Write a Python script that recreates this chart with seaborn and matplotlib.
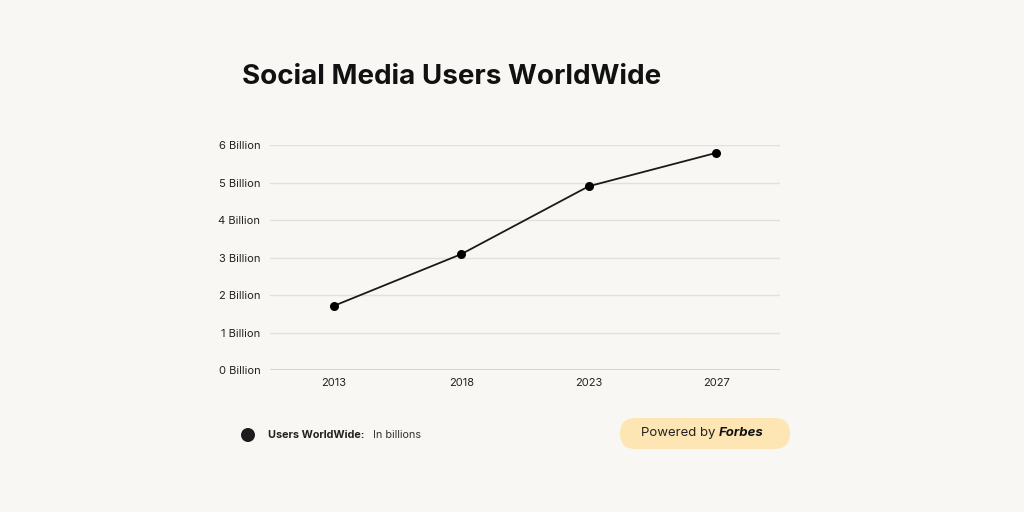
import matplotlib
matplotlib.use("Agg")
import matplotlib.pyplot as plt
from matplotlib.patches import FancyBboxPatch, Circle
import pandas as pd
import seaborn as sns

years = ["2013", "2018", "2023", "2027"]
users = [1.71, 3.09, 4.9, 5.79]
y_ticks = [0, 1, 2, 3, 4, 5, 6]
y_labels = [f"{v} Billion" for v in y_ticks]

BG = "#f9f7f3"

sns.set_theme(style="white")
plt.rcParams["font.family"] = ["Inter", "DejaVu Sans"]

df = pd.DataFrame({"year": years, "users": users})

fig = plt.figure(figsize=(10.24, 5.12), dpi=100, facecolor=BG)
ax = fig.add_axes([0.2637, 0.2773, 0.498, 0.4395], facecolor=BG)

for v in y_ticks[1:]:
    ax.axhline(v, color="#e3e0da", lw=1, zorder=0)
ax.axhline(0, color="#cfccc6", lw=1.2, zorder=0)

sns.lineplot(data=df, x="year", y="users", ax=ax, color="#1a1a1a", lw=1.3,
             marker="o", markersize=6.5, markeredgewidth=0, markerfacecolor="#000000")

ax.set_xlim(-0.5, 3.5)
ax.set_ylim(0, 6)
ax.set_yticks(y_ticks)
ax.set_yticklabels(y_labels)
ax.tick_params(axis="both", labelsize=8, colors="#222222", length=0)
ax.tick_params(axis="y", pad=7)
ax.tick_params(axis="x", pad=6)
ax.set_xlabel("")
ax.set_ylabel("")
for s in ax.spines.values():
    s.set_visible(False)

H = 5.12  # figure height in inches, for placing things in pixel terms
px = fig.dpi_scale_trans

fig.text(242 / 1024, 1 - 77 / 512, "Social Media Users WorldWide", fontsize=20,
         fontweight="bold", color="#111111", va="center", ha="left")

# legend
fig.patches.append(Circle((2.48, H - 4.35), 0.07, transform=px,
                          facecolor="#1c1c1c", edgecolor="none"))
fig.text(268 / 1024, 1 - 435 / 512, "Users WorldWide:", fontsize=7.8, fontweight="bold",
         color="#222222", va="center", ha="left")
fig.text(373 / 1024, 1 - 435 / 512, "In billions", fontsize=7.8,
         color="#333333", va="center", ha="left")

# badge
badge = FancyBboxPatch((6.20, H - 4.49), 1.70, 0.31,
                       boxstyle="round,pad=0,rounding_size=0.155",
                       transform=px, facecolor="#fde6b3", edgecolor="none")
fig.patches.append(badge)
fig.text(719 / 1024, 1 - 433 / 512, "Powered by ", fontsize=9.5, color="#222222",
         va="center", ha="right")
fig.text(719 / 1024, 1 - 433 / 512, "Forbes", fontsize=9.5, color="#111111",
         fontweight="bold", fontstyle="italic", va="center", ha="left")

fig.savefig("out.png", dpi=100, facecolor=BG)
